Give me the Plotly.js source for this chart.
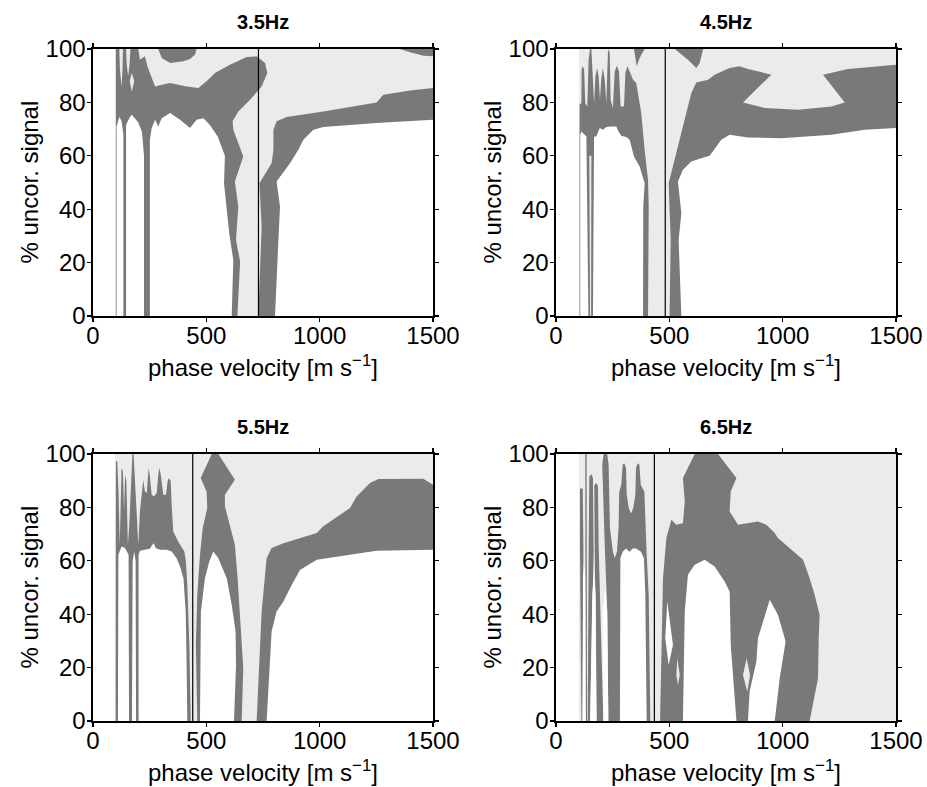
<!DOCTYPE html>
<html>
<head>
<meta charset="utf-8">
<script src="https://cdn.plot.ly/plotly-3.0.1.min.js"></script>
<style>html,body{margin:0;padding:0;background:#fff}#chart{width:927px;height:787px}</style>
</head>
<body>
<div id="chart"></div>
<script>
// ---------- panel titles / tick labels ----------
const panelTitles = ["3.5Hz", "4.5Hz", "5.5Hz", "6.5Hz"];
const xTicks = [0, 500, 1000, 1500];
const yTicks = [0, 20, 40, 60, 80, 100];

// reference phase velocity (vertical lines), m/s
const refVelocity = [730, 482, 440, 434];

// ---------- Panel 1 : 3.5 Hz  (vertices: [phase velocity, % uncor. signal]) ----------
const P1_LIGHT = [[97,0],[97,100],[1500,100],[1500,0]];
const P1_DARK_A = [[101,0],[101,100],[200,100],[207,96],[229,97.25],[240,93.5],[251,91],[274,86],[303,86.6],[340,87.25],[413,86],[465,85.4],[501,87.9],[538,91],[604,94.1],[678,97],[722,97.25],[759,94.75],[769,91],[744,86],[693,81],[641,76.6],[616,72.9],[619,69.75],[663,59.75],[626,50.4],[641,41],[631,28.5],[649,20.4],[637,0]];
const P1_DARK_TOP = [[288,100],[303,96.6],[340,94.75],[369,95],[399,95.4],[428,96.25],[450,97.9],[457,100]];
const P1_DARK_CORNER = [[1354,100],[1399,98.75],[1458,97.5],[1500,97.25],[1500,100]];
const P1_DARK_B = [[729,0],[737,16],[744,33.5],[734,49.75],[788,57.25],[796,62.25],[796,69.75],[810,72.9],[854,74.5],[1016,76.6],[1251,80],[1281,82.9],[1399,84.5],[1500,85.4],[1500,0]];
const P1_LIGHT_HOLES = [
  [[116,100],[132,100],[130,92],[126,86],[119,92]],
  [[146,100],[165,100],[161,94],[155,90],[149,94]],
  [[171,91],[182,88],[171,84],[162,88]]
];
const P1_WHITE = [
  [[104,0],[104,71],[116,74.5],[126,73],[134,68],[134,0]],
  [[146,0],[146,71.6],[163,74.5],[171,75.4],[185,74],[200,72.5],[216,69],[225,60],[225,0]],
  [[251,0],[251,66],[259,70.4],[274,73.5],[288,71],[303,74.1],[340,76],[384,73.5],[428,70.4],[457,73.5],[487,74.1],[516,71.5],[550,67.25],[582,60],[578,49.75],[590,41],[601,31],[619,21],[612,0]],
  [[803,0],[810,16],[818,28.5],[825,41],[810,50.4],[869,57.25],[906,62.25],[928,66],[972,69.75],[1016,70.75],[1251,72.25],[1500,73.5],[1500,0]]
];

// ---------- Panel 2 : 4.5 Hz ----------
const P2_LIGHT = [[101,0],[101,100],[1500,100],[1500,0]];
const P2_DARK_A = [[104,0],[104,79.1],[112,79.75],[113,92.25],[118,93.75],[124,92.25],[129,79.75],[138,78.5],[144,96],[150,100],[156,100],[160,93.5],[168,79.75],[174,89.75],[181,92.9],[188,89.75],[194,81],[200,89.1],[207,92.9],[215,88.5],[222,79.75],[229,98.5],[232,100],[237,98.5],[241,81],[251,77.9],[259,91.6],[269,93.75],[278,91.6],[285,78.5],[300,78.5],[306,91],[315,93.5],[325,91.6],[340,88.5],[354,87.25],[362,83.5],[376,76],[391,62.25],[406,51],[409,41],[406,0]];
const P2_DARK_TOP = [[344,100],[350,96],[356,93.5],[369,96.6],[391,100]];
const P2_DARK_WEDGE = [[524,100],[582,96],[619,92.9],[634,94.75],[649,100]];
const P2_DARK_B = [[501,0],[506,28.5],[497,49.75],[516,56],[546,66],[575,76],[597,83.5],[619,87.5],[671,88.5],[700,90.4],[766,92.9],[810,93.5],[847,92.5],[950,90.4],[825,80],[921,77.9],[1068,77.25],[1215,78.5],[1274,80],[1178,90.4],[1288,92.5],[1500,94.1],[1500,0]];
const P2_LIGHT_HOLES = [
  [[147,60],[156,60],[155,0],[150,0]]
];
const P2_WHITE = [
  [[107,0],[107,67.9],[112,69.1],[124,67.9],[134,67.25],[143,0]],
  [[163,0],[168,67.25],[178,67.25],[193,70.4],[207,69.75],[222,70.75],[244,71],[266,71],[276,69.1],[288,67.5],[310,67],[325,66],[344,59.75],[369,56],[391,49.75],[385,41],[384,0]],
  [[553,0],[541,28.5],[553,38.5],[538,50.4],[560,54.75],[597,57.9],[641,59.1],[678,60],[729,66],[766,67.9],[847,66.9],[994,66.6],[1215,67.9],[1362,69.75],[1500,70.4],[1500,0]]
];

// ---------- Panel 3 : 5.5 Hz ----------
const P3_LIGHT = [[97,0],[97,100],[1500,100],[1500,0]];
const P3_DARK_A = [[100,0],[101,97.25],[107,97.25],[113,84.75],[118,66],[122,88.5],[126,94.75],[132,93.5],[137,78.5],[140,88.5],[143,92.25],[147,89.75],[154,66],[160,73.5],[168,91],[174,100],[179,100],[185,91],[193,74.75],[200,66],[207,78.5],[216,86],[222,90.4],[229,86],[237,85.4],[243,92.25],[246,94.75],[250,92.25],[259,84.75],[269,84.1],[281,85.4],[288,92.25],[293,94.75],[299,92.25],[310,84.75],[322,84.75],[329,89.75],[335,91],[343,89.75],[347,81],[354,71],[376,67.25],[403,63.5],[410,59.75],[416,51],[425,28.5],[431,0]];
const P3_DARK_C = [[460,0],[454,28.5],[460,47.25],[472,62.25],[484,72.25],[504,79.75],[501,86],[475,91],[524,100],[553,100],[626,90.4],[582,84.75],[582,80.4],[604,73.5],[626,66],[638,53.5],[649,38.5],[663,19.75],[656,0]];
const P3_DARK_D = [[722,0],[744,41],[766,61],[788,64.75],[840,66.6],[987,70.4],[1016,72.9],[1134,79.75],[1163,84.1],[1222,89.1],[1259,90.6],[1457,90.75],[1500,88.5],[1500,0]];
const P3_LIGHT_HOLES = [];
const P3_WHITE = [
  [[110,0],[112,62.25],[126,65.4],[141,64.75],[157,62.25],[159,0]],
  [[172,0],[175,59.75],[182,63.5],[188,59.75],[190,0]],
  [[201,0],[201,62.25],[207,63.75],[229,64.1],[251,64.5],[262,66],[269,66.6],[276,64.75],[296,64.1],[325,64.1],[347,63.5],[369,61],[384,57.9],[399,53.5],[409,41],[413,22.25],[416,0]],
  [[472,0],[476,41],[494,53.5],[513,59.75],[531,63.5],[553,61],[590,53.5],[612,43.5],[629,33.5],[631,21],[622,0]],
  [[766,0],[788,33.5],[810,41],[840,44.75],[869,49.75],[913,56.6],[987,60.4],[1251,63.75],[1500,64.1],[1500,0]]
];

// ---------- Panel 4 : 6.5 Hz ----------
const P4_LIGHT = [[101,0],[101,100],[1500,100],[1500,0]];
const P4_DARK_S1 = [[106,87.1],[118,87.1],[121,63.4],[116,0],[112,0],[106,63.4]];
const P4_DARK_S2 = [[129,100],[135,100],[137,0],[131,0]];
const P4_DARK_S3 = [[147,91.6],[156,92.5],[163,91],[166,63.5],[150,0],[140,0],[144,63.5]];
const P4_DARK_S4 = [[169,88.4],[178,89.1],[185,87.9],[188,66],[209,0],[179,0],[171,63.5]];
const P4_DARK_M = [[231,0],[226,41],[215,66],[204,96],[210,100],[226,100],[232,96],[238,72.25],[251,63.5],[259,61],[269,63.5],[276,72.25],[279,85.9],[288,88.5],[294,96],[301,96.5],[309,94.75],[312,84.75],[321,79.75],[331,77.75],[341,79.75],[350,84.75],[353,94.75],[360,96.5],[368,96],[374,88.5],[390,85.9],[394,72.25],[400,62.25],[409,47.25],[412,28.5],[416,0]];
const P4_DARK_E = [[459,0],[465,28.5],[472,53.5],[487,68.5],[509,75.4],[531,73.5],[560,74.1],[568,82.25],[560,91],[612,100],[715,100],[796,91],[771,86],[766,78.5],[803,73.5],[891,74.75],[928,73.5],[965,70.4],[979,68.5],[1090,60.4],[1119,53.5],[1141,47.25],[1163,39.75],[1159,31],[1156,16],[1119,0]];
const P4_LIGHT_HOLES = [
  [[535,23.5],[546,17.25],[538,13.5],[531,17.25]],
  [[841,23.5],[856,17.25],[844,11],[825,17.25]]
];
const P4_WHITE = [
  [[118,0],[119,53.5],[124,59.75],[129,53.5],[131,0]],
  [[151,0],[160,47.25],[168,56],[175,47.25],[179,0]],
  [[209,0],[206,41],[218,49.75],[226,41],[231,0]],
  [[282,0],[284,61],[294,63.4],[309,64.6],[324,63.4],[338,64.6],[353,64.6],[375,63.4],[388,61],[394,47.25],[400,0]],
  [[560,0],[568,41],[582,54.75],[612,58.5],[656,60.4],[700,57.9],[744,52.25],[766,48.5],[771,28.5],[796,0]],
  [[491,44.75],[506,36],[516,28.5],[497,21],[482,31]],
  [[847,0],[854,11],[884,22.25],[891,31],[943,45.4],[979,39.75],[1013,29.75],[987,16],[965,0]]
];

// ---------- styling ----------
const LIGHT = "#ebebeb";
const DARK = "#797979";
const WHITE = "#ffffff";
const FONT = "Liberation Sans, Arial, Helvetica, sans-serif";

function poly(pts, color, k) {
  return {
    type: "scatter", mode: "lines",
    x: pts.map(p => p[0]), y: pts.map(p => p[1]),
    fill: "toself", fillcolor: color,
    line: {width: 0, color: color},
    hoverinfo: "skip", showlegend: false,
    xaxis: "x" + (k === 1 ? "" : k), yaxis: "y" + (k === 1 ? "" : k)
  };
}

const panels = [
  {light: P1_LIGHT, dark: [P1_DARK_A, P1_DARK_TOP, P1_DARK_CORNER, P1_DARK_B], lholes: P1_LIGHT_HOLES, white: P1_WHITE},
  {light: P2_LIGHT, dark: [P2_DARK_A, P2_DARK_TOP, P2_DARK_WEDGE, P2_DARK_B], lholes: P2_LIGHT_HOLES, white: P2_WHITE},
  {light: P3_LIGHT, dark: [P3_DARK_A, P3_DARK_C, P3_DARK_D], lholes: P3_LIGHT_HOLES, white: P3_WHITE},
  {light: P4_LIGHT, dark: [P4_DARK_S1, P4_DARK_S2, P4_DARK_S3, P4_DARK_S4, P4_DARK_M, P4_DARK_E], lholes: P4_LIGHT_HOLES, white: P4_WHITE}
];

const traces = [];
panels.forEach((p, i) => {
  const k = i + 1;
  traces.push(poly(p.light, LIGHT, k));
  p.dark.forEach(d => traces.push(poly(d, DARK, k)));
  p.lholes.forEach(d => traces.push(poly(d, LIGHT, k)));
  p.white.forEach(d => traces.push(poly(d, WHITE, k)));
  traces.push({
    type: "scatter", mode: "lines",
    x: [refVelocity[i], refVelocity[i]], y: [0, 100],
    line: {color: "#000", width: 1.2},
    hoverinfo: "skip", showlegend: false,
    xaxis: "x" + (k === 1 ? "" : k), yaxis: "y" + (k === 1 ? "" : k)
  });
});

const W = 927, H = 787;
// plot-area pixel boxes [left, right, top, bottom]
const boxes = [[93, 433, 49, 316], [556, 896, 49, 316], [93, 433, 454, 721], [556, 896, 454, 721]];

function axisX(box, yname) {
  return {
    domain: [box[0] / W, box[1] / W], range: [0, 1500], anchor: yname,
    tickvals: xTicks, ticktext: xTicks.map(String),
    showline: true, mirror: "ticks", linecolor: "#000", linewidth: 1.6,
    ticks: "outside", ticklen: 4, tickwidth: 1.3, tickcolor: "#000",
    ticklabelstandoff: -6,
    showgrid: false, zeroline: false,
    tickfont: {family: FONT, size: 24, color: "#000"}, fixedrange: true
  };
}
function axisY(box, xname) {
  return {
    domain: [1 - box[3] / H, 1 - box[2] / H], range: [0, 100], anchor: xname,
    tickvals: yTicks, ticktext: yTicks.map(String),
    showline: true, mirror: "ticks", linecolor: "#000", linewidth: 1.6,
    ticks: "outside", ticklen: 4, tickwidth: 1.3, tickcolor: "#000",
    ticklabelstandoff: -3,
    showgrid: false, zeroline: false,
    tickfont: {family: FONT, size: 24, color: "#000"}, fixedrange: true
  };
}

const layout = {
  width: W, height: H,
  margin: {l: 0, r: 0, t: 0, b: 0},
  paper_bgcolor: "#fff", plot_bgcolor: "#fff",
  showlegend: false,
  annotations: []
};
boxes.forEach((b, i) => {
  const k = i + 1;
  const xn = "x" + (k === 1 ? "" : k), yn = "y" + (k === 1 ? "" : k);
  layout["xaxis" + (k === 1 ? "" : k)] = axisX(b, yn);
  layout["yaxis" + (k === 1 ? "" : k)] = axisY(b, xn);
  const cx = (b[0] + b[1]) / 2;
  const cy = (b[2] + b[3]) / 2;
  layout.annotations.push({
    xref: "paper", yref: "paper", x: cx / W, y: 1 - (b[2] - 27) / H,
    text: "<b>" + panelTitles[i] + "</b>", showarrow: false,
    font: {family: FONT, size: 20, color: "#000"}, xanchor: "center", yanchor: "middle"
  });
  layout.annotations.push({
    xref: "paper", yref: "paper", x: cx / W, y: 1 - (b[3] + 50) / H,
    text: "phase velocity [m s<sup>−1</sup>]", showarrow: false,
    font: {family: FONT, size: 24, color: "#000"}, xanchor: "center", yanchor: "middle"
  });
  layout.annotations.push({
    xref: "paper", yref: "paper", x: (b[0] - 64) / W, y: 1 - cy / H,
    text: "% uncor. signal", showarrow: false, textangle: -90,
    font: {family: FONT, size: 24, color: "#000"}, xanchor: "center", yanchor: "middle"
  });
});

Plotly.newPlot("chart", traces, layout, {staticPlot: true, displayModeBar: false});
</script>
</body>
</html>
